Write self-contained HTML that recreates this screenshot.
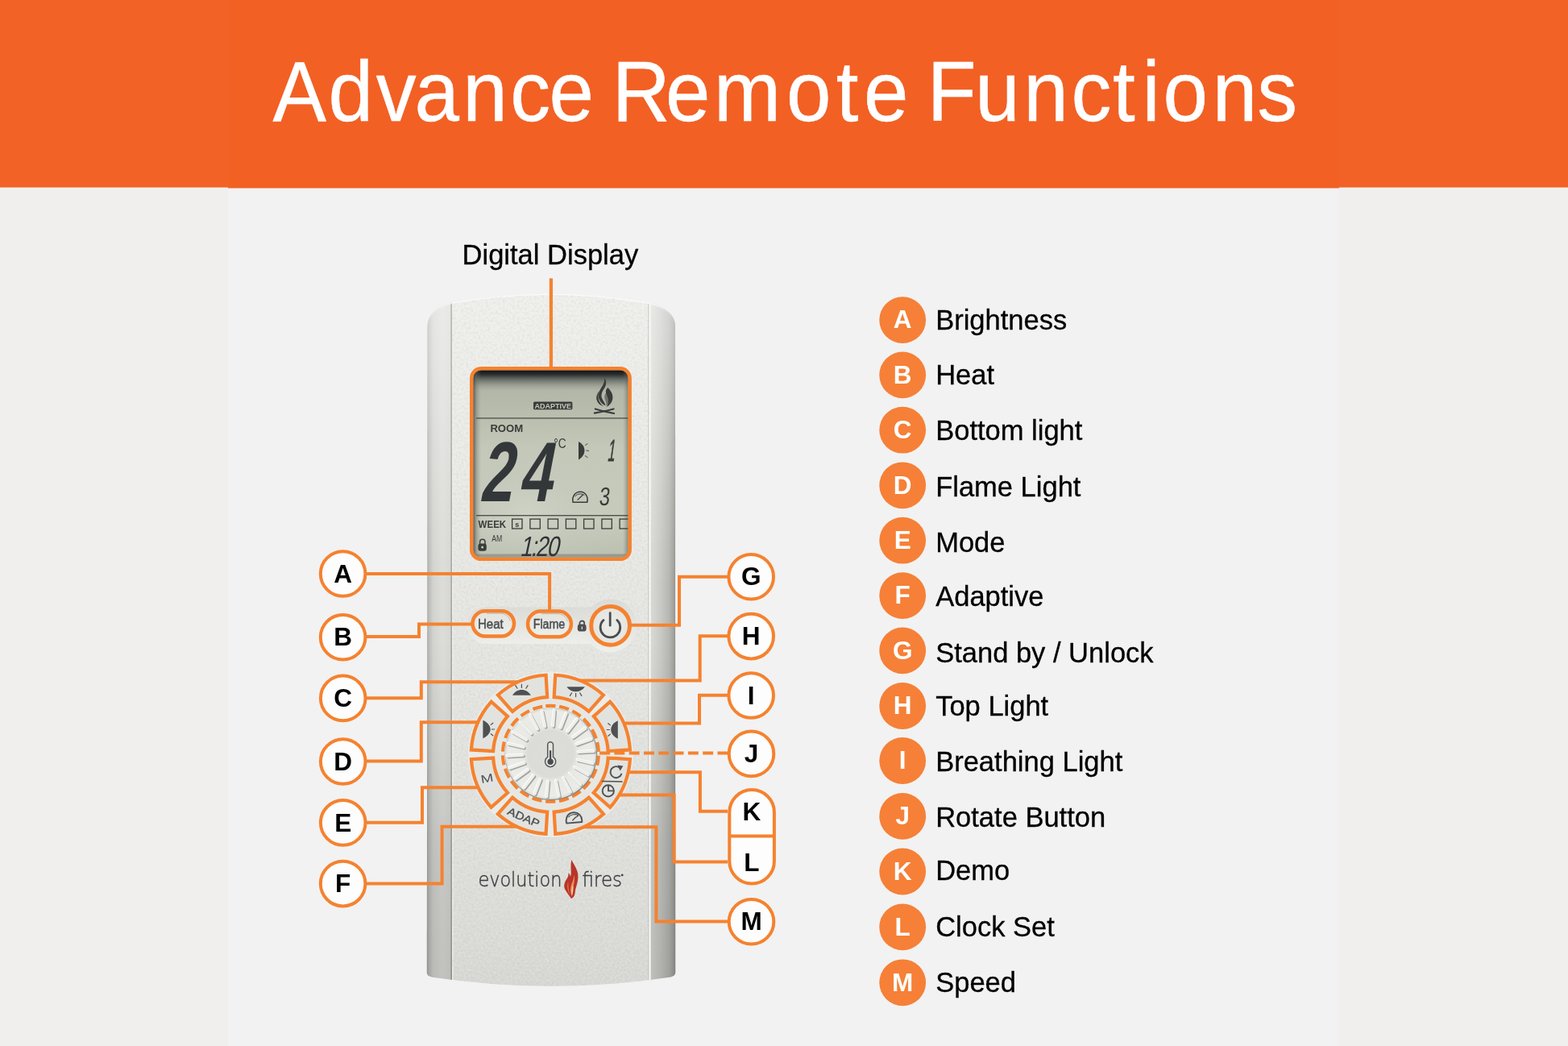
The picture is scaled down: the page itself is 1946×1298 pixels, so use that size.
<!DOCTYPE html>
<html lang="en"><head><meta charset="utf-8"><title>Advance Remote Functions</title>
<style>
html,body{margin:0;padding:0;background:#F1EFED;}
body{width:1946px;height:1298px;overflow:hidden;font-family:"Liberation Sans",sans-serif;}
svg{display:block;will-change:transform;}
</style></head>
<body>
<svg width="1946" height="1298" viewBox="0 0 1946 1298">
<rect x="0" y="0" width="1946" height="1298" fill="#F1EFED"/>
<rect x="283" y="0" width="1379" height="1298" fill="#F2F2F2"/>
<rect x="0" y="0" width="1946" height="232.6" fill="#F26226"/>
<rect x="283" y="0" width="1379" height="233.5" fill="#F26024"/>
<g transform="translate(0 150) scale(0.95 1)"><text x="356.4 429.0 491.3 541.7 604.5 666.5 717.4 758.6 799.7 869.4 932.6 1027.4 1092.4 1128.3 1169.7 1211.2 1273.9 1337.1 1399.4 1453.8 1492.1 1519.4 1583.9 1642.3" y="0" font-family="'Liberation Sans', sans-serif" font-size="105" fill="#fff" stroke="#fff" stroke-width="0.5">Advance Remote Functions</text></g>
<text x="573.6" y="328.2" font-family="'Liberation Sans', sans-serif" font-size="34.5" fill="#000" stroke="#000" stroke-width="0.3">Digital Display</text>
<defs>
<clipPath id="bodyclip"><path d="M529.8 1207 L530.6 404 Q531 384 560.5 375.4 Q684 353.6 806.5 376 Q837 384 838 404 L838.2 1207 Q838 1211 832 1212.5 Q684 1235 536 1212.5 Q529.9 1211 529.8 1207 Z"/></clipPath>
<linearGradient id="gFace" x1="0" y1="365" x2="0" y2="1223" gradientUnits="userSpaceOnUse">
 <stop offset="0" stop-color="#EFEFEC"/><stop offset="0.1" stop-color="#EDEDEA"/><stop offset="0.43" stop-color="#E6E7E3"/><stop offset="0.75" stop-color="#E0E1DD"/><stop offset="0.93" stop-color="#DADBD6"/><stop offset="1" stop-color="#D6D7D2"/>
</linearGradient>
<linearGradient id="gLeft" x1="529" y1="0" x2="560" y2="0" gradientUnits="userSpaceOnUse">
 <stop offset="0" stop-color="#9A9B96"/><stop offset="0.1" stop-color="#BBBCB7"/><stop offset="0.28" stop-color="#D3D4D0"/><stop offset="0.65" stop-color="#DCDDD9"/><stop offset="1" stop-color="#D6D7D3"/>
</linearGradient>
<linearGradient id="gRight" x1="806" y1="0" x2="838.5" y2="0" gradientUnits="userSpaceOnUse">
 <stop offset="0" stop-color="#DBDCD8"/><stop offset="0.4" stop-color="#CACBC6"/><stop offset="0.75" stop-color="#B6B7B2"/><stop offset="0.93" stop-color="#A0A19C"/><stop offset="1" stop-color="#8A8B86"/>
</linearGradient>
<linearGradient id="gSideV" x1="0" y1="365" x2="0" y2="1223" gradientUnits="userSpaceOnUse">
 <stop offset="0" stop-color="#fff" stop-opacity="0.42"/><stop offset="0.08" stop-color="#fff" stop-opacity="0.36"/><stop offset="0.3" stop-color="#fff" stop-opacity="0.12"/><stop offset="0.42" stop-color="#fff" stop-opacity="0"/><stop offset="0.5" stop-color="#000" stop-opacity="0"/><stop offset="0.62" stop-color="#000" stop-opacity="0.035"/><stop offset="0.8" stop-color="#000" stop-opacity="0.095"/><stop offset="1" stop-color="#000" stop-opacity="0.12"/>
</linearGradient>
</defs>
<g clip-path="url(#bodyclip)">
<rect x="528" y="360" width="312" height="870" fill="url(#gFace)"/>
<rect x="528" y="360" width="33" height="870" fill="url(#gLeft)"/>
<rect x="806" y="360" width="34" height="870" fill="url(#gRight)"/>
<rect x="528" y="360" width="33" height="870" fill="url(#gSideV)"/>
<rect x="806" y="360" width="34" height="870" fill="url(#gSideV)"/>
<linearGradient id="gSeam" x1="0" y1="365" x2="0" y2="1223" gradientUnits="userSpaceOnUse"><stop offset="0" stop-color="#B4B5B1"/><stop offset="0.5" stop-color="#A2A39F"/><stop offset="1" stop-color="#8C8D88"/></linearGradient>
<rect x="559.3" y="360" width="1.7" height="870" fill="url(#gSeam)" opacity="0.9"/>
<rect x="561" y="360" width="1.5" height="870" fill="#EFEFEC" opacity="0.85"/>
<rect x="804.3" y="360" width="1.1" height="870" fill="#C4C5C1"/>
<rect x="805.6" y="360" width="2" height="870" fill="#F7F7F4"/>
<filter id="fNoise" x="0" y="0" width="100%" height="100%" filterUnits="objectBoundingBox"><feTurbulence type="fractalNoise" baseFrequency="0.38" numOctaves="2" seed="7" result="n"/><feColorMatrix in="n" type="matrix" values="0 0 0 0 1  0 0 0 0 1  0 0 0 0 1  1.6 0 0 0 -0.62"/></filter>
<rect x="561" y="362" width="245" height="866" filter="url(#fNoise)" opacity="0.32"/>
<filter id="fNoiseD" x="0" y="0" width="100%" height="100%" filterUnits="objectBoundingBox"><feTurbulence type="fractalNoise" baseFrequency="0.33" numOctaves="2" seed="23" result="n"/><feColorMatrix in="n" type="matrix" values="0 0 0 0 0.45  0 0 0 0 0.45  0 0 0 0 0.43  0 1.5 0 0 -0.64"/></filter>
<rect x="561" y="362" width="245" height="866" filter="url(#fNoiseD)" opacity="0.28"/>
<linearGradient id="gRim" x1="530" y1="0" x2="838" y2="0" gradientUnits="userSpaceOnUse"><stop offset="0" stop-color="#FBFBF9" stop-opacity="0"/><stop offset="0.07" stop-color="#FBFBF9" stop-opacity="0.5"/><stop offset="0.11" stop-color="#FBFBF9" stop-opacity="0.95"/><stop offset="0.89" stop-color="#FBFBF9" stop-opacity="0.95"/><stop offset="0.94" stop-color="#FBFBF9" stop-opacity="0.5"/><stop offset="1" stop-color="#FBFBF9" stop-opacity="0"/></linearGradient>
<path d="M530.6 404 Q531 384 560.5 375.4 Q684 353.6 806.5 376 Q837 384 838 404" fill="none" stroke="url(#gRim)" stroke-width="2.6"/>
</g>
<defs>
<clipPath id="lcdclip"><rect x="587.3" y="459.3" width="192.3" height="232.5" rx="9.6" ry="9.6"/></clipPath>
<linearGradient id="gLcd" x1="0" y1="0" x2="0" y2="1">
 <stop offset="0" stop-color="#ABB0A3"/><stop offset="0.2" stop-color="#B6BBAC"/><stop offset="0.42" stop-color="#C3C8B9"/><stop offset="0.8" stop-color="#C6CBBC"/><stop offset="1" stop-color="#B9BEAF"/>
</linearGradient>
<radialGradient id="gLcdGlow" cx="655" cy="640" r="120" gradientUnits="userSpaceOnUse" gradientTransform="translate(655 640) scale(1 0.8) translate(-655 -640)">
 <stop offset="0" stop-color="#D2D6CA" stop-opacity="0.75"/><stop offset="0.55" stop-color="#C6CABD" stop-opacity="0.35"/><stop offset="1" stop-color="#C6CABD" stop-opacity="0"/>
</radialGradient>
<linearGradient id="gLcdTop" x1="0" y1="0" x2="0" y2="1">
 <stop offset="0" stop-color="#0E1214" stop-opacity="1"/><stop offset="0.22" stop-color="#1E2325" stop-opacity="0.92"/><stop offset="0.5" stop-color="#474C48" stop-opacity="0.6"/><stop offset="0.8" stop-color="#70756C" stop-opacity="0.22"/><stop offset="1" stop-color="#80857B" stop-opacity="0"/>
</linearGradient>
<linearGradient id="gLcdLeft" x1="0" y1="0" x2="1" y2="0">
 <stop offset="0" stop-color="#3A3F3C" stop-opacity="0.85"/><stop offset="0.45" stop-color="#6A6F66" stop-opacity="0.4"/><stop offset="1" stop-color="#80857B" stop-opacity="0"/>
</linearGradient>
<linearGradient id="gLcdRight" x1="1" y1="0" x2="0" y2="0">
 <stop offset="0" stop-color="#4A4F4A" stop-opacity="0.55"/><stop offset="1" stop-color="#80857B" stop-opacity="0"/>
</linearGradient>
</defs>
<rect x="585.2" y="457.2" width="196.5" height="236.7" rx="12" ry="12" fill="url(#gLcd)"/>
<g clip-path="url(#lcdclip)">
<rect x="587" y="459" width="193" height="233" fill="url(#gLcdGlow)"/>
<rect x="587" y="459" width="193" height="26" fill="url(#gLcdTop)"/>
<rect x="587" y="459" width="10" height="233" fill="url(#gLcdLeft)"/>
<rect x="773" y="459" width="7" height="233" fill="url(#gLcdRight)"/>
<rect x="587" y="687.5" width="193" height="4.5" fill="#5F645C" opacity="0.4"/>
<rect x="591" y="518.3" width="189" height="1.3" fill="#383D3A" opacity="0.85"/>
<rect x="591" y="639" width="189" height="1.4" fill="#383D3A" opacity="0.85"/>
<rect x="662" y="498.4" width="48.4" height="9.8" rx="1.5" fill="#383D3A"/>
<text x="663.4" y="506.6" font-family="'Liberation Sans', sans-serif" font-weight="bold" font-size="8.6" fill="#C3C7B9" textLength="45.6" lengthAdjust="spacingAndGlyphs">ADAPTIVE</text>
<g fill="#383D3A" stroke="none"><path d="M750 469 C753.6 473.6 752.4 478.4 749.6 482.6 C746.4 487.4 745.4 491.6 748 496 C749.2 498.2 751 500.6 751.6 503.6 C748.4 502.4 745.2 499.4 743.6 495.6 C741.6 490.6 743.4 485.6 746 481.6 C748.6 477.6 750.6 474 750 469 Z"/><path d="M743.6 485 C741.2 488.6 739.4 492.4 740.6 496.6 C741.8 500.6 745 503 749 504.4 C745.8 501.4 743.2 498.2 742.6 494.4 C742.2 491.2 742.8 488 743.6 485 Z"/><path d="M754.4 481 C759 485.4 761.2 490.4 760.2 495.6 C759.4 499.8 756.6 503 753 505 C754.4 502 755.4 499 754.8 495.6 C754.2 491.8 751.6 489 751.8 485.6 C752 483.6 753 482.2 754.4 481 Z"/><path d="M752.2 487.6 C754.8 490.6 756.2 494 755.6 497.6 C755.2 500.2 754 502.4 752.4 504.2 C752.6 501.4 752.2 498.8 751 496.4 C749.8 494 749.6 490.6 752.2 487.6 Z" opacity="0.55"/></g><g fill="none" stroke="#383D3A" stroke-width="2.1" stroke-linecap="round"><path d="M737.8 512.6 Q750 510.4 761.6 507.4"/><path d="M738.8 507.4 Q750 510.6 762 513"/></g>
<text x="608.4" y="536" font-family="'Liberation Sans', sans-serif" font-weight="bold" font-size="12.2" fill="#383D3A" textLength="40.8" lengthAdjust="spacingAndGlyphs">ROOM</text>
<g transform="translate(594.5 621.8) skewX(-10.9) scale(0.69 1)"><text x="0 70" y="0" font-family="'Liberation Sans', sans-serif" font-weight="bold" font-size="105.5" fill="#33373A">24</text></g>
<text x="687.2" y="556" font-family="'Liberation Sans', sans-serif" font-size="16" fill="#383D3A" textLength="15.4" lengthAdjust="spacingAndGlyphs">°C</text>
<g fill="#383D3A"><path d="M718 548 C723.6 551 725.6 555.4 725.4 559.6 C725.2 563.6 723 567.6 718 570.4 Z"/></g><g stroke="#383D3A" stroke-width="1.1" stroke-linecap="round" opacity="0.75"><path d="M726.6 552.4 L729 550.6 M727.6 559 L730.6 559.4 M726.4 565.6 L729 567.6"/></g>
<g transform="translate(753.4 572.3) skewX(-8) scale(0.42 1)"><text x="0" y="0" font-family="'Liberation Sans', sans-serif" font-size="38" fill="#383D3A" stroke="#383D3A" stroke-width="0.8">1</text></g>
<g fill="none" stroke="#383D3A" stroke-width="1.5" stroke-linejoin="round"><path d="M711 623.2 C709.6 615.4 714.4 610.3 720.2 610.3 C726 610.3 730.2 615.6 728.8 623.2 Z"/><path d="M716.6 620.6 L723.6 613.8" stroke-width="1.3"/><path d="M713.4 616.2 C716 612.6 722 611.8 725.4 614.6" stroke-width="1"/></g>
<g transform="translate(743 626.8) skewX(-6) scale(0.74 1)"><text x="0" y="0" font-family="'Liberation Sans', sans-serif" font-size="32" fill="#383D3A">3</text></g>
<text x="593.6" y="654.8" font-family="'Liberation Sans', sans-serif" font-weight="bold" font-size="13.6" fill="#383D3A" textLength="34.6" lengthAdjust="spacingAndGlyphs">WEEK</text>
<rect x="635.6" y="644.1" width="12.4" height="11.9" fill="none" stroke="#383D3A" stroke-width="1.3"/>
<rect x="657.9" y="644.1" width="12.4" height="11.9" fill="none" stroke="#383D3A" stroke-width="1.3"/>
<rect x="680.1" y="644.1" width="12.4" height="11.9" fill="none" stroke="#383D3A" stroke-width="1.3"/>
<rect x="702.4" y="644.1" width="12.4" height="11.9" fill="none" stroke="#383D3A" stroke-width="1.3"/>
<rect x="724.6" y="644.1" width="12.4" height="11.9" fill="none" stroke="#383D3A" stroke-width="1.3"/>
<rect x="746.9" y="644.1" width="12.4" height="11.9" fill="none" stroke="#383D3A" stroke-width="1.3"/>
<rect x="769.1" y="644.1" width="12.4" height="11.9" fill="none" stroke="#383D3A" stroke-width="1.3"/>
<text x="641.8" y="653.6" text-anchor="middle" font-family="'Liberation Sans', sans-serif" font-weight="bold" font-size="9" fill="#383D3A">s</text>
<g><path d="M595.6 675.4 V672.4 a3.2 3.2 0 0 1 6.4 0 V675.4" fill="none" stroke="#383D3A" stroke-width="1.5"/><rect x="593.4" y="674.6" width="10.4" height="9.2" rx="3" fill="#383D3A"/><circle cx="598.6" cy="679" r="1.5" fill="#C3C7B9"/></g>
<text x="610.2" y="672.4" font-family="'Liberation Sans', sans-serif" font-size="10.6" fill="#383D3A" textLength="13" lengthAdjust="spacingAndGlyphs">AM</text>
<g transform="translate(645 689.6) skewX(-12) scale(0.78 1)"><text x="0" y="0" font-family="'Liberation Sans', sans-serif" font-size="35" fill="#2F3336" textLength="62" lengthAdjust="spacing">1:20</text></g>
</g>
<rect x="585.2" y="457.2" width="196.5" height="236.7" rx="12" ry="12" fill="none" stroke="#F5822F" stroke-width="4.4"/>
<rect x="681.8" y="345.4" width="4.2" height="111" fill="#F5822F"/>
<defs>
<linearGradient id="gBtn" x1="0" y1="0" x2="0" y2="1"><stop offset="0" stop-color="#E3E4E0"/><stop offset="1" stop-color="#EDEEEA"/></linearGradient>
<radialGradient id="gPow" cx="0.5" cy="0.5" r="0.5"><stop offset="0" stop-color="#ECEDE9"/><stop offset="1" stop-color="#E4E5E1"/></radialGradient>
</defs>
<defs><linearGradient id="gRec" x1="0" y1="0" x2="0" y2="1"><stop offset="0" stop-color="#D9DAD6"/><stop offset="0.5" stop-color="#E4E5E1"/><stop offset="1" stop-color="#F0F1ED"/></linearGradient></defs>
<path d="M603 753.5 H735 V799 H603 a22.75 22.75 0 0 1 0 -45.5 Z" fill="url(#gRec)" opacity="0.8"/>
<circle cx="757.2" cy="776.4" r="33" fill="url(#gRec)" opacity="0.9"/>
<rect x="586.5" y="758.3" width="51.5" height="31.1" rx="15.55" ry="15.55" fill="url(#gBtn)" stroke="#F5822F" stroke-width="4.5"/>
<rect x="655" y="758.6" width="53.9" height="31.7" rx="15.85" ry="15.85" fill="url(#gBtn)" stroke="#F5822F" stroke-width="4.5"/>
<path d="M604 761.2 H621 a13 13 0 0 1 12.4 9" fill="none" stroke="#8F908C" stroke-width="0.9" opacity="0.55"/>
<path d="M672 761.6 H692 a13 13 0 0 1 12.6 9.4" fill="none" stroke="#8F908C" stroke-width="0.9" opacity="0.55"/>
<g font-family="'Liberation Sans', sans-serif" font-size="16" fill="#4C4E50" stroke="#4C4E50" stroke-width="0.5"><text x="593" y="779.8" textLength="31.8" lengthAdjust="spacingAndGlyphs">Heat</text><text x="661.8" y="780" textLength="39.4" lengthAdjust="spacingAndGlyphs">Flame</text></g>
<g><path d="M719.4 776 V773.4 a2.9 2.9 0 0 1 5.8 0 V776" fill="none" stroke="#4C4E50" stroke-width="1.8"/><rect x="716.8" y="774.6" width="10.8" height="9" rx="3.4" fill="#4C4E50"/><rect x="721.7" y="777.2" width="1.3" height="3.8" rx="0.6" fill="#D8D9D5"/></g>
<circle cx="757.6" cy="776.4" r="23.9" fill="url(#gPow)" stroke="#F5822F" stroke-width="5"/>
<g fill="none" stroke="#4A4C4E" stroke-width="2.8" stroke-linecap="round"><path d="M749 769.6 A12.3 12.3 0 1 0 765.8 769.6"/><path d="M757.2 760.6 V776.2"/></g>
<defs>
<radialGradient id="gKnob" cx="0.5" cy="0.5" r="0.5">
 <stop offset="0" stop-color="#DDDEDA"/><stop offset="0.5" stop-color="#DBDCD8"/><stop offset="0.62" stop-color="#E8E9E5"/><stop offset="0.94" stop-color="#EBECE8"/><stop offset="1" stop-color="#DCDDD9"/>
</radialGradient>
<linearGradient id="gSeg" x1="0" y1="0" x2="0" y2="1"><stop offset="0" stop-color="#E3E4E0"/><stop offset="1" stop-color="#E0E1DD"/></linearGradient>
</defs>
<circle cx="683.4" cy="936.3" r="102.6" fill="#EFF0EC" opacity="0.7"/>
<circle cx="683.4" cy="936.3" r="69" fill="#E6E7E3"/>
<path d="M687.63 865.03 L689.25 837.77 A98.7 98.7 0 0 1 748.93 862.49 L730.80 882.91 A71.4 71.4 0 0 0 687.63 865.03 Z" fill="#E2E3DF" stroke="#F5822F" stroke-width="4.2" stroke-linejoin="miter"/>
<path d="M736.79 888.90 L757.21 870.77 A98.7 98.7 0 0 1 781.93 930.45 L754.67 932.07 A71.4 71.4 0 0 0 736.79 888.90 Z" fill="#E2E3DF" stroke="#F5822F" stroke-width="4.2" stroke-linejoin="miter"/>
<path d="M754.67 940.53 L781.93 942.15 A98.7 98.7 0 0 1 757.21 1001.83 L736.79 983.70 A71.4 71.4 0 0 0 754.67 940.53 Z" fill="#E2E3DF" stroke="#F5822F" stroke-width="4.2" stroke-linejoin="miter"/>
<path d="M730.80 989.69 L748.93 1010.11 A98.7 98.7 0 0 1 689.25 1034.83 L687.63 1007.57 A71.4 71.4 0 0 0 730.80 989.69 Z" fill="#E2E3DF" stroke="#F5822F" stroke-width="4.2" stroke-linejoin="miter"/>
<path d="M679.17 1007.57 L677.55 1034.83 A98.7 98.7 0 0 1 617.87 1010.11 L636.00 989.69 A71.4 71.4 0 0 0 679.17 1007.57 Z" fill="#E2E3DF" stroke="#F5822F" stroke-width="4.2" stroke-linejoin="miter"/>
<path d="M630.01 983.70 L609.59 1001.83 A98.7 98.7 0 0 1 584.87 942.15 L612.13 940.53 A71.4 71.4 0 0 0 630.01 983.70 Z" fill="#E2E3DF" stroke="#F5822F" stroke-width="4.2" stroke-linejoin="miter"/>
<path d="M612.13 932.07 L584.87 930.45 A98.7 98.7 0 0 1 609.59 870.77 L630.01 888.90 A71.4 71.4 0 0 0 612.13 932.07 Z" fill="#E2E3DF" stroke="#F5822F" stroke-width="4.2" stroke-linejoin="miter"/>
<path d="M636.00 882.91 L617.87 862.49 A98.7 98.7 0 0 1 677.55 837.77 L679.17 865.03 A71.4 71.4 0 0 0 636.00 882.91 Z" fill="#E2E3DF" stroke="#F5822F" stroke-width="4.2" stroke-linejoin="miter"/>
<circle cx="683.4" cy="935.3" r="59.5" fill="none" stroke="#F5822F" stroke-width="4.1" stroke-dasharray="12.2 4.793" transform="rotate(-95.92 683.4 935.3)"/>
<circle cx="683.9" cy="936.0" r="57.2" fill="#7D7E79" opacity="0.85"/>
<circle cx="683.4" cy="935.3" r="56.5" fill="url(#gKnob)"/>
<path d="M687.51 902.13 L689.17 883.10 M697.07 904.37 L704.03 886.58 M705.61 909.21 L717.30 894.11 M712.44 916.27 L727.91 905.06 M717.01 924.96 L735.01 918.57 M718.95 934.59 L738.02 933.52 M718.09 944.37 L736.69 948.72 M714.51 953.51 L731.13 962.93 M708.51 961.28 L721.79 975.00 M700.55 967.04 L709.44 983.95 M691.30 970.32 L695.06 989.05 M681.49 970.87 L679.83 989.90 M671.93 968.63 L664.97 986.42 M663.39 963.79 L651.70 978.89 M656.56 956.73 L641.09 967.94 M651.99 948.04 L633.99 954.43 M650.05 938.41 L630.98 939.48 M650.91 928.63 L632.31 924.28 M654.49 919.49 L637.87 910.07 M660.49 911.72 L647.21 898.00 M668.45 905.96 L659.56 889.05 M677.70 902.68 L673.94 883.95" stroke="#A3A49F" stroke-width="3.8" stroke-linecap="round" fill="none"/>
<path d="M685.61 900.13 L687.27 881.10 M695.17 902.37 L702.13 884.58 M703.71 907.21 L715.40 892.11 M710.54 914.27 L726.01 903.06 M715.11 922.96 L733.11 916.57 M717.05 932.59 L736.12 931.52 M716.19 942.37 L734.79 946.72 M712.61 951.51 L729.23 960.93 M706.61 959.28 L719.89 973.00 M698.65 965.04 L707.54 981.95 M689.40 968.32 L693.16 987.05 M679.59 968.87 L677.93 987.90 M670.03 966.63 L663.07 984.42 M661.49 961.79 L649.80 976.89 M654.66 954.73 L639.19 965.94 M650.09 946.04 L632.09 952.43 M648.15 936.41 L629.08 937.48 M649.01 926.63 L630.41 922.28 M652.59 917.49 L635.97 908.07 M658.59 909.72 L645.31 896.00 M666.55 903.96 L657.66 887.05 M675.80 900.68 L672.04 881.95" stroke="#FCFDF9" stroke-width="3.4" stroke-linecap="round" fill="none"/>
<path d="M686.41 900.93 L688.07 881.90 M695.97 903.17 L702.93 885.38 M704.51 908.01 L716.20 892.91 M711.34 915.07 L726.81 903.86 M715.91 923.76 L733.91 917.37 M717.85 933.39 L736.92 932.32 M716.99 943.17 L735.59 947.52 M713.41 952.31 L730.03 961.73 M707.41 960.08 L720.69 973.80 M699.45 965.84 L708.34 982.75 M690.20 969.12 L693.96 987.85 M680.39 969.67 L678.73 988.70 M670.83 967.43 L663.87 985.22 M662.29 962.59 L650.60 977.69 M655.46 955.53 L639.99 966.74 M650.89 946.84 L632.89 953.23 M648.95 937.21 L629.88 938.28 M649.81 927.43 L631.21 923.08 M653.39 918.29 L636.77 908.87 M659.39 910.52 L646.11 896.80 M667.35 904.76 L658.46 887.85 M676.60 901.48 L672.84 882.75" stroke="#EEEFEB" stroke-width="3.3" stroke-linecap="round" fill="none"/>
<g transform="translate(683.1 935.8)"><path d="M-3.4 3.6 V-11.6 a3.4 3.4 0 0 1 6.8 0 V3.6 a6.6 6.6 0 1 1 -6.8 0 Z" fill="#E4E5E1" stroke="#55585A" stroke-width="1.5"/><circle cx="0" cy="9.4" r="3.7" fill="#4A4D50"/><rect x="-1.1" y="-4.6" width="2.2" height="12" fill="#4A4D50"/></g>
<g transform="translate(647.4 862.8)"><path d="M-11.4 0 C-9 -4.4 -4.6 -6.9 0 -6.9 C4.6 -6.9 9 -4.4 11.4 0 Z" fill="#4E5052"/><path d="M0 -9.4 V-13.4 M-5.4 -8.6 L-7.6 -12.2 M5.4 -8.6 L7.6 -12.2" stroke="#4E5052" stroke-width="1.2" stroke-linecap="round"/></g>
<g transform="translate(714.6 852.2)"><path d="M-11.2 0 C-8.6 4 -4.4 6 0 6 C4.4 6 8.6 4 11.2 0 Z" fill="#4E5052"/><path d="M0 8.2 V12.4 M-5 7.6 L-7.2 11.2 M5 7.6 L7.2 11.2" stroke="#4E5052" stroke-width="1.2" stroke-linecap="round"/></g>
<g transform="translate(599.4 905)"><path d="M0 -11.3 C5.6 -8.6 9.2 -4.4 9.2 0 C9.2 4.4 5.6 8.6 0 11.3 Z" fill="#4E5052"/><path d="M11 0 H14.2 M9.8 -5.6 L12.4 -7.8 M9.8 5.6 L12.4 7.8" stroke="#4E5052" stroke-width="1.2" stroke-linecap="round"/></g>
<g transform="translate(766.8 905.5)"><path d="M0 -11.3 C-5.6 -8.6 -8.6 -4.4 -8.6 0 C-8.6 4.4 -5.6 8.6 0 11.3 Z" fill="#4E5052"/><path d="M-10.4 0 H-13.6 M-9.4 -5.6 L-12 -7.8 M-9.4 5.6 L-12 7.8" stroke="#4E5052" stroke-width="1.2" stroke-linecap="round"/></g>
<g transform="translate(604.4 966) rotate(-10) scale(1.22 0.9)"><text x="0" y="0" text-anchor="middle" dominant-baseline="central" font-family="'Liberation Sans', sans-serif" font-size="15.5" fill="#4E5052">M</text></g>
<text transform="translate(649.8 1014.4) rotate(24)" x="0" y="0" text-anchor="middle" dominant-baseline="central" font-family="'Liberation Sans', sans-serif" font-size="13.4" fill="#4E5052" stroke="#4E5052" stroke-width="0.35" textLength="42" lengthAdjust="spacingAndGlyphs">ADAP</text>
<g transform="translate(712.2 1015.2) rotate(-5)" fill="none" stroke="#4E5052" stroke-width="1.9" stroke-linejoin="round"><path d="M-9.6 5.6 C-10.8 -2.4 -5.8 -7 0 -7 C5.8 -7 10.8 -2.4 9.6 5.6 Z"/><path d="M-1.6 2.6 C0.4 0.2 2.6 -1.4 5.4 -2.4" stroke-width="1.5" stroke-linecap="round"/><path d="M-6.6 -1.6 C-3.6 -5 2.6 -5.4 6.2 -2.6" stroke-width="1.1"/></g>
<g fill="none" stroke="#4E5052" stroke-width="1.9" stroke-linecap="round"><path d="M769.6 953.2 A7 7 0 1 0 771.2 960.6"/><path d="M747.6 969.4 L772 970" stroke-width="1.5"/><circle cx="754.8" cy="981.4" r="7.1"/><path d="M755 975.6 V981.4 H761"/></g><path d="M766.4 949.4 L773.4 950.6 L769.6 956.4 Z" fill="#4E5052"/>
<g font-family="'DejaVu Sans', 'Liberation Sans', sans-serif" font-weight="200" font-size="25.4" fill="#3A3C3E" stroke="#3A3C3E" stroke-width="0.45"><text x="593.4" y="1099.8" textLength="104" lengthAdjust="spacingAndGlyphs">evolution</text><text x="722.6" y="1099.8" textLength="49.4" lengthAdjust="spacingAndGlyphs">fires</text></g>
<circle cx="772.2" cy="1085.9" r="1.35" fill="#3A3C3E"/>
<path d="M709.36 1066.82 C711.21 1071.96 717.79 1079.15 717.48 1087.89 C717.27 1096.11 714.09 1101.25 713.57 1108.44 C713.16 1112.04 711.21 1114.10 708.95 1114.92 C707.10 1112.55 704.01 1108.44 701.55 1104.33 C699.08 1100.02 700.31 1095.08 703.19 1090.97 C704.84 1088.71 705.86 1085.83 705.45 1082.95 C706.89 1084.60 707.92 1086.04 707.92 1088.09 C709.97 1082.75 707.30 1075.55 709.36 1066.82 Z" fill="#B8352A"/>
<path d="M712.03 1085.83 C714.70 1092.00 711.00 1099.19 709.77 1112.55 C707.92 1108.44 707.30 1103.30 708.95 1098.17 C710.39 1094.05 712.44 1090.97 712.03 1085.83 Z" fill="#EE8F58"/>
<path d="M705.25 1094.05 C703.19 1099.19 704.22 1104.33 707.51 1111.01 C705.86 1105.36 705.04 1100.22 705.25 1094.05 Z" fill="#E87445"/>
<path d="M711.00 1098.17 C712.03 1102.28 711.00 1107.42 709.97 1111.73 C709.36 1107.42 709.56 1102.28 711.00 1098.17 Z" fill="#F8D9A8"/>
<g fill="none" stroke="#F5822F" stroke-width="4" stroke-linejoin="miter">
<path d="M455 712.1 H682.1 V757"/>
<path d="M455 790 H520 V774.6 H585"/>
<path d="M455 866.2 H522.8 V846.2 H643.5"/>
<path d="M455 944.4 H522.8 V896.2 H593.4"/>
<path d="M455 1020.8 H524 V977.2 H593.8"/>
<path d="M455 1096.6 H548.6 V1025.8 H642"/>
<path d="M903 715.8 H843 V775.8 H782"/>
<path d="M903 789.2 H868.7 V844.6 H719.6"/>
<path d="M903 862.8 H868 V897.6 H774.4"/>
<path d="M903 1006.8 H868.9 V958.2 H779.8"/>
<path d="M903 1069.4 H836.6 V986.4 H768.6"/>
<path d="M903 1143.4 H814.4 V1026.2 H724"/>
<path d="M903.4 934.6 H741" stroke-dasharray="12.9 5.4"/>
</g>
<g font-family="'Liberation Sans', sans-serif" font-weight="bold" font-size="31.5" text-anchor="middle" fill="#000">
<circle cx="425.6" cy="712" r="27.8" fill="#FDFDFD" stroke="#F5822F" stroke-width="4"/>
<text x="425.6" y="722.6">A</text>
<circle cx="425.6" cy="790.7" r="27.8" fill="#FDFDFD" stroke="#F5822F" stroke-width="4"/>
<text x="425.6" y="801.3000000000001">B</text>
<circle cx="425.7" cy="866.4" r="27.8" fill="#FDFDFD" stroke="#F5822F" stroke-width="4"/>
<text x="425.7" y="877.0">C</text>
<circle cx="425.7" cy="945" r="27.8" fill="#FDFDFD" stroke="#F5822F" stroke-width="4"/>
<text x="425.7" y="955.6">D</text>
<circle cx="425.7" cy="1020.9" r="27.8" fill="#FDFDFD" stroke="#F5822F" stroke-width="4"/>
<text x="425.7" y="1031.5">E</text>
<circle cx="425.6" cy="1096.6" r="27.8" fill="#FDFDFD" stroke="#F5822F" stroke-width="4"/>
<text x="425.6" y="1107.1999999999998">F</text>
<circle cx="932.2" cy="715.8" r="27.8" fill="#FDFDFD" stroke="#F5822F" stroke-width="4"/>
<text x="932.2" y="726.4">G</text>
<circle cx="932.2" cy="789.6" r="27.8" fill="#FDFDFD" stroke="#F5822F" stroke-width="4"/>
<text x="932.2" y="800.2">H</text>
<circle cx="932.2" cy="863" r="27.8" fill="#FDFDFD" stroke="#F5822F" stroke-width="4"/>
<text x="932.2" y="873.6">I</text>
<circle cx="932.5" cy="935.4" r="27.8" fill="#FDFDFD" stroke="#F5822F" stroke-width="4"/>
<text x="932.5" y="946.0">J</text>
<circle cx="932.5" cy="1143.7" r="27.8" fill="#FDFDFD" stroke="#F5822F" stroke-width="4"/>
<text x="932.5" y="1154.3">M</text>
<rect x="905.3" y="980.1" width="55.6" height="116.4" rx="27.8" ry="27.8" fill="#FDFDFD" stroke="#F5822F" stroke-width="4"/>
<path d="M905.3 1037.4 H960.9" stroke="#F5822F" stroke-width="4"/>
<text x="932.8" y="1017.6">K</text><text x="932.8" y="1081">L</text>
</g>
<g font-family="'Liberation Sans', sans-serif">
<circle cx="1120.2" cy="397.1" r="28.9" fill="#F68037"/>
<text x="1120.2" y="407.4" text-anchor="middle" font-size="31.5" font-weight="bold" fill="#fff">A</text>
<text x="1161.2" y="408.5" font-size="34.5" fill="#000" stroke="#000" stroke-width="0.3">Brightness</text>
<circle cx="1120.2" cy="465.4" r="28.9" fill="#F68037"/>
<text x="1120.2" y="475.7" text-anchor="middle" font-size="31.5" font-weight="bold" fill="#fff">B</text>
<text x="1161.2" y="477.3" font-size="34.5" fill="#000" stroke="#000" stroke-width="0.3">Heat</text>
<circle cx="1120.2" cy="533.7" r="28.9" fill="#F68037"/>
<text x="1120.2" y="544.0" text-anchor="middle" font-size="31.5" font-weight="bold" fill="#fff">C</text>
<text x="1161.2" y="546.3" font-size="34.5" fill="#000" stroke="#000" stroke-width="0.3">Bottom light</text>
<circle cx="1120.2" cy="602.3" r="28.9" fill="#F68037"/>
<text x="1120.2" y="612.6" text-anchor="middle" font-size="31.5" font-weight="bold" fill="#fff">D</text>
<text x="1161.2" y="615.7" font-size="34.5" fill="#000" stroke="#000" stroke-width="0.3">Flame Light</text>
<circle cx="1120.2" cy="670.7" r="28.9" fill="#F68037"/>
<text x="1120.2" y="681.0" text-anchor="middle" font-size="31.5" font-weight="bold" fill="#fff">E</text>
<text x="1161.2" y="684.5" font-size="34.5" fill="#000" stroke="#000" stroke-width="0.3">Mode</text>
<circle cx="1120.2" cy="739.1" r="28.9" fill="#F68037"/>
<text x="1120.2" y="749.4" text-anchor="middle" font-size="31.5" font-weight="bold" fill="#fff">F</text>
<text x="1161.2" y="751.9" font-size="34.5" fill="#000" stroke="#000" stroke-width="0.3">Adaptive</text>
<circle cx="1120.2" cy="807.4" r="28.9" fill="#F68037"/>
<text x="1120.2" y="817.7" text-anchor="middle" font-size="31.5" font-weight="bold" fill="#fff">G</text>
<text x="1161.2" y="821.6" font-size="34.5" fill="#000" stroke="#000" stroke-width="0.3">Stand by / Unlock</text>
<circle cx="1120.2" cy="876" r="28.9" fill="#F68037"/>
<text x="1120.2" y="886.3" text-anchor="middle" font-size="31.5" font-weight="bold" fill="#fff">H</text>
<text x="1161.2" y="887.7" font-size="34.5" fill="#000" stroke="#000" stroke-width="0.3">Top Light</text>
<circle cx="1120.2" cy="944" r="28.9" fill="#F68037"/>
<text x="1120.2" y="954.3" text-anchor="middle" font-size="31.5" font-weight="bold" fill="#fff">I</text>
<text x="1161.2" y="956.8" font-size="34.5" fill="#000" stroke="#000" stroke-width="0.3">Breathing Light</text>
<circle cx="1120.2" cy="1012.9" r="28.9" fill="#F68037"/>
<text x="1120.2" y="1023.2" text-anchor="middle" font-size="31.5" font-weight="bold" fill="#fff">J</text>
<text x="1161.2" y="1026.0" font-size="34.5" fill="#000" stroke="#000" stroke-width="0.3">Rotate Button</text>
<circle cx="1120.2" cy="1081.5" r="28.9" fill="#F68037"/>
<text x="1120.2" y="1091.8" text-anchor="middle" font-size="31.5" font-weight="bold" fill="#fff">K</text>
<text x="1161.2" y="1092.4" font-size="34.5" fill="#000" stroke="#000" stroke-width="0.3">Demo</text>
<circle cx="1120.2" cy="1150.4" r="28.9" fill="#F68037"/>
<text x="1120.2" y="1160.7" text-anchor="middle" font-size="31.5" font-weight="bold" fill="#fff">L</text>
<text x="1161.2" y="1161.5" font-size="34.5" fill="#000" stroke="#000" stroke-width="0.3">Clock Set</text>
<circle cx="1120.2" cy="1219.3" r="28.9" fill="#F68037"/>
<text x="1120.2" y="1229.6" text-anchor="middle" font-size="31.5" font-weight="bold" fill="#fff">M</text>
<text x="1161.2" y="1230.8" font-size="34.5" fill="#000" stroke="#000" stroke-width="0.3">Speed</text>
</g>
</svg>
</body></html>
